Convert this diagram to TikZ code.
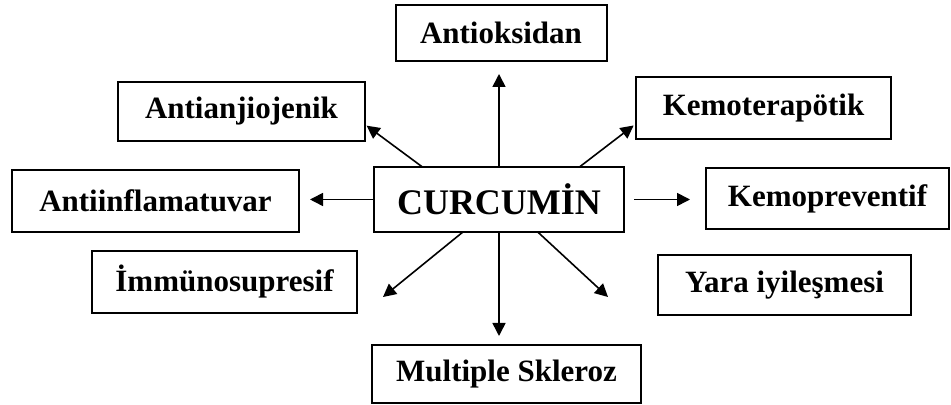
\documentclass[tikz,border=0pt]{standalone}
\usepackage{fontspec}
\setmainfont{Liberation Serif}
\usepackage{tikz}
\usetikzlibrary{arrows.meta, positioning, calc}

\begin{document}
\begin{tikzpicture}[
    x=0.5pt, y=0.5pt,
    box/.style={rectangle, draw=black, line width=1pt, fill=white, inner sep=0pt, outer sep=0pt, align=center, font=\bfseries\fontsize{15.5}{18}\selectfont},
    mainbox/.style={box, font=\bfseries\fontsize{18}{21}\selectfont},
    line/.style={draw=black, line width=0.8pt, -{Triangle[length=6.5pt, width=6.5pt]}}
]
    \useasboundingbox (0,0) rectangle (951,405);

    % Nodes
    \node [mainbox, minimum width=125pt, minimum height=32.5pt] (curcumin) at (499,205.5) {CURCUMİN};
    \node [box, minimum width=105.5pt, minimum height=28pt] (antioks) at (501,372) {Antioksidan};
    \node [box, minimum width=123.5pt, minimum height=29.5pt] (antianj) at (241.5,293.5) {Antianjiojenik};
    \node [box, minimum width=127.5pt, minimum height=31pt] (kemoter) at (763.5,297) {Kemoterapötik};
    \node [box, minimum width=143.5pt, minimum height=31pt] (antiinf) at (155.5,204) {Antiinflamatuvar};
    \node [box, minimum width=121.5pt, minimum height=30.5pt] (kemopre) at (827.5,206.5) {Kemopreventif};
    \node [box, minimum width=132.5pt, minimum height=31pt] (immuno) at (224.5,123) {İmmünosupresif};
    \node [box, minimum width=126.5pt, minimum height=30pt] (yara) at (784.5,120) {Yara iyileşmesi};
    \node [box, minimum width=134.5pt, minimum height=29pt] (multiple) at (506.5,31) {Multiple Skleroz};

    % Free arrow ends
    \coordinate (immuno_tip) at ($(immuno.east)+(26,-15)$);
    \coordinate (yara_tip) at ($(yara.west)+(-50,-12)$);

    % Paths
    \path [line, shorten >=6.5pt] (curcumin.north) -- (curcumin.north |- antioks.south);
    \path [line, shorten >=1pt] (curcumin.157) -- (antianj.-6);
    \path [line, shorten >=1.5pt] (curcumin.22) -- (kemoter.187);
    \path [line, shorten >=5.5pt] (curcumin.west) -- (curcumin.west -| antiinf.east);
    \path [line, shorten <=5pt, shorten >=8pt] (curcumin.east) -- (curcumin.east -| kemopre.west);
    \path [line] (curcumin.222) -- (immuno_tip);
    \path [line] (curcumin.-40) -- (yara_tip);
    \path [line, shorten >=4.5pt] (curcumin.south) -- (curcumin.south |- multiple.north);

\end{tikzpicture}
\end{document}
